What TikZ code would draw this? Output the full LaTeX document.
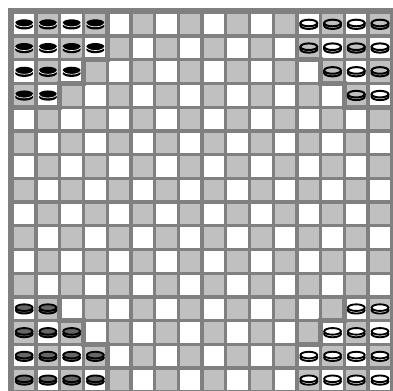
\documentclass[tikz,border=0pt]{standalone}
\definecolor{brd}{HTML}{808080}
\definecolor{lg}{HTML}{C0C0C0}
\definecolor{pg}{HTML}{666666}
\tikzset{
  camp/.style={draw=brd, line width=3.6pt, line join=miter},
  rimline/.style={draw=black, line width=1.5pt},
}
\newcommand\cellctr[2]{%
  \pgfmathsetmacro\cx{24.2+23.72*#1}%
  \pgfmathsetmacro\cy{24.2+23.72*#2}}
\newcommand\blackpiece[2]{%
  \cellctr{#1}{#2}%
  \fill[black] (\cx,\cy+1.6) ellipse [x radius=9,y radius=3.7];
  \fill[black] (\cx,\cy-1.2) ellipse [x radius=9,y radius=3.7];
  \draw[white,line width=0.5pt] (\cx-8.8,\cy-1.0) arc[start angle=180,end angle=0,x radius=8.8,y radius=3.6];}
\newcommand\ringpiece[2]{%
  \cellctr{#1}{#2}%
  \draw[rimline] (\cx-8.4,\cy-1.2) -- (\cx-8.4,\cy+1.4) arc[start angle=180,end angle=0,x radius=8.4,y radius=3.3] -- (\cx+8.4,\cy-1.2);
  \draw[rimline] (\cx,\cy-1.2) ellipse [x radius=8.4,y radius=3.3];}
\newcommand\fullpiece[3]{%
  \cellctr{#1}{#2}%
  \filldraw[fill=#3,draw=black,line width=1.4pt] (\cx,\cy+1.4) ellipse [x radius=8.4,y radius=3.3];
  \filldraw[fill=#3,draw=black,line width=1.4pt] (\cx,\cy-1.2) ellipse [x radius=8.4,y radius=3.3];}
\begin{document}
\begin{tikzpicture}[x=0.75pt,y=-0.75pt]
\useasboundingbox (0,0) rectangle (393,391);
\fill[white] (0,0) rectangle (393,391);
\fill[brd] (8,8.5) rectangle (393,391);
\foreach \r in {0,...,15} {
  \foreach \c in {0,...,15} {
    \pgfmathsetmacro\xx{14+23.72*\c}
    \pgfmathsetmacro\yy{14+23.72*\r}
    \pgfmathtruncatemacro\pp{mod(\r+\c,2)}
    \ifnum\pp=0 \def\cc{white}\else\def\cc{lg}\fi
    \fill[\cc] (\xx,\yy) rectangle ++(20.4,20.4);
  }
}
% camp boundaries
\draw[camp] (107.22,8.5) -- (107.22,59.78) -- (83.5,59.78) -- (83.5,83.5) -- (59.78,83.5) -- (59.78,107.22) -- (8,107.22);
\draw[camp] (296.98,8.5) -- (296.98,59.78) -- (320.7,59.78) -- (320.7,83.5) -- (344.42,83.5) -- (344.42,107.22) -- (393,107.22);
\draw[camp] (8,296.98) -- (59.78,296.98) -- (59.78,320.7) -- (83.5,320.7) -- (83.5,344.42) -- (107.22,344.42) -- (107.22,391);
\draw[camp] (393,296.98) -- (344.42,296.98) -- (344.42,320.7) -- (320.7,320.7) -- (320.7,344.42) -- (296.98,344.42) -- (296.98,391);
% pieces
\foreach \c/\r in {0/0,1/0,2/0,3/0,0/1,1/1,2/1,3/1,0/2,1/2,2/2,0/3,1/3} {\blackpiece{\c}{\r}}
\foreach \c/\r in {12/0,13/0,14/0,15/0,12/1,13/1,14/1,15/1,13/2,14/2,15/2,14/3,15/3} {\ringpiece{\c}{\r}}
\foreach \c/\r in {0/12,1/12,0/13,1/13,2/13,0/14,1/14,2/14,3/14,0/15,1/15,2/15,3/15} {\fullpiece{\c}{\r}{pg}}
\foreach \c/\r in {14/12,15/12,13/13,14/13,15/13,12/14,13/14,14/14,15/14,12/15,13/15,14/15,15/15} {\fullpiece{\c}{\r}{white}}
\end{tikzpicture}
\end{document}
